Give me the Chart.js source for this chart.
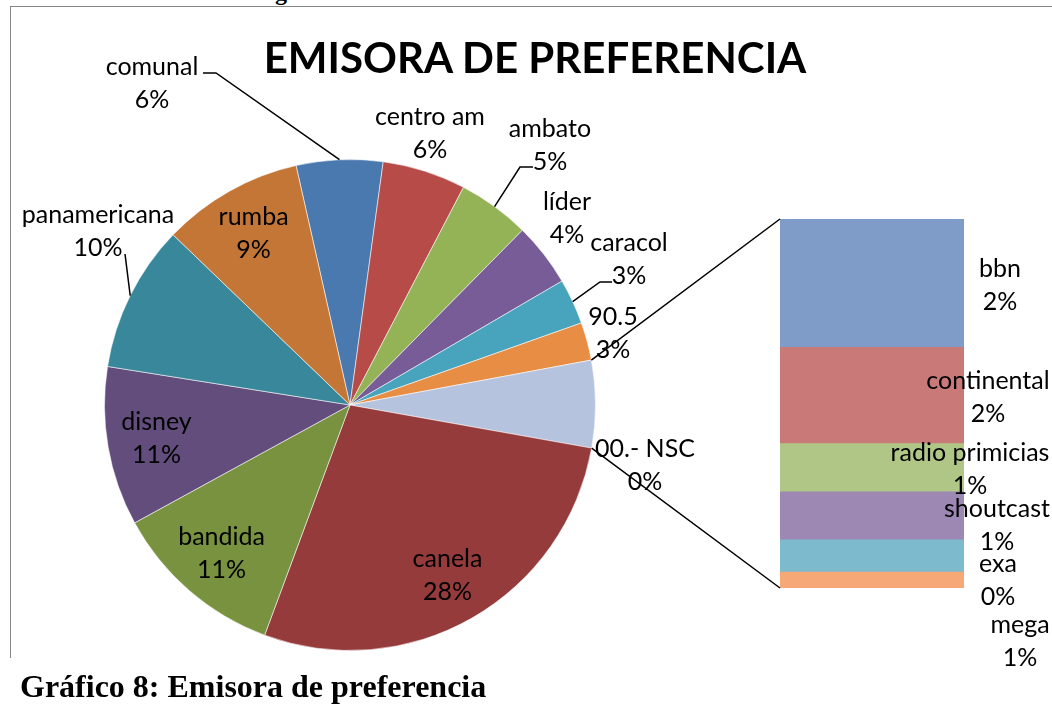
<!DOCTYPE html>
<html>
<head>
<meta charset="utf-8">
<script src="https://cdn.jsdelivr.net/npm/chart.js@4.4.1/dist/chart.umd.min.js"></script>
<style>
  body { margin: 0; width: 1052px; height: 708px; overflow: hidden; background: #fff; position: relative; }
  #frame { position: absolute; left: 10px; top: 6px; width: 1100px; height: 651px; border-left: 1px solid #868686; border-top: 1px solid #868686; }
  canvas { position: absolute; left: 0; top: 0; }
  #source { position: absolute; left: 35px; top: -20px; font: bold 24px "Liberation Serif"; line-height: 1; color: #000; white-space: nowrap; }
  #title { position: absolute; left: 235px; width: 600px; top: 36px; text-align: center; font: bold 42px Lato; line-height: 1; color: #000; white-space: nowrap; }
  #caption { position: absolute; left: 20px; top: 670px; font: bold 32px "Liberation Serif"; line-height: 1; color: #000; white-space: nowrap; }
</style>
</head>
<body>
<div id="source">Elaboración: La investigadora</div>
<div id="frame"></div>
<canvas id="pieChart" width="1052" height="708"></canvas>
<canvas id="barChart" width="1052" height="708"></canvas>
<div id="title">EMISORA DE PREFERENCIA</div>
<div id="caption">Gráfico 8: Emisora de preferencia</div>

<script>
// --- datos ---
const pieLabels = ['comunal', 'centro am', 'ambato', 'líder', 'caracol', '90.5', '00.- NSC', 'canela', 'bandida', 'disney', 'panamericana', 'rumba'];
const pieValues = [5.7, 5.5, 4.75, 4.2, 3.0, 2.5, 5.75, 27.9, 11.4, 10.5, 9.7, 9.3];
const piePercent = ['6%', '6%', '5%', '4%', '3%', '3%', '0%', '28%', '11%', '11%', '10%', '9%'];
const pieColors = ['#4A79B0', '#B64B48', '#94B356', '#775C98', '#48A3BC', '#E78D44', '#B5C3DE', '#953B3B', '#79923F', '#634D7D', '#38879A', '#C37636'];

const barLabels = ['bbn', 'continental', 'radio primicias', 'shoutcast', 'exa', 'mega'];
const barValues = [2.0, 1.5, 0.75, 0.75, 0.5, 0.25];
const barPercent = ['2%', '2%', '1%', '1%', '0%', '1%'];
const barColors = ['#7F9BC8', '#C97A78', '#AFC686', '#9C88B3', '#7DBACD', '#F6A876'];

const OTHER_INDEX = 6;
const LABEL_FONT = '25px Lato';
const LINE = 33;

// --- posiciones de etiquetas (relativas al centro del pastel) ---
const pieLabelPlace = [
  { dx: -198, dy: -322, lead: [51, -10, 13] },   // comunal
  { dx: 80, dy: -272 },                           // centro am
  { dx: 200, dy: -260, lead: [-17, 22, -13] },    // ambato
  { dx: 217, dy: -187 },                          // líder
  { dx: 279, dy: -146, lead: [-17, 23, -12] },    // caracol
  { dx: 263, dy: -72 },                           // 90.5
  { dx: 295, dy: 60 },                            // 00.- NSC
  { inside: true },                               // canela
  { inside: true },                               // bandida
  { inside: true },                               // disney
  { dx: -252, dy: -174, lead: [27, 23, 0] },      // panamericana
  { inside: true }                                // rumba
];
// desplazamiento de etiquetas de la barra: [dx desde borde derecho, dy desde centro del segmento]
const barLabelPlace = [[36, 2], [24, 1.5], [6, 1.5], [33, 10], [34, 25], [56, 61.5]];

const drawTwoLines = (ctx, a, b, x, y) => {
  ctx.fillText(a, x, y - LINE / 2);
  ctx.fillText(b, x, y + LINE / 2);
};

const pieLabelPlugin = {
  id: 'pieLabels',
  afterDatasetsDraw(chart) {
    const ctx = chart.ctx;
    const arcs = chart.getDatasetMeta(0).data;
    ctx.save();
    ctx.font = LABEL_FONT;
    ctx.fillStyle = '#000';
    ctx.strokeStyle = '#000';
    ctx.lineWidth = 1.5;
    ctx.textAlign = 'center';
    ctx.textBaseline = 'middle';
    arcs.forEach((arc, i) => {
      const p = arc.getProps(['x', 'y', 'startAngle', 'endAngle', 'outerRadius'], true);
      const mid = (p.startAngle + p.endAngle) / 2;
      const place = pieLabelPlace[i];
      let bx, by;
      if (place.inside) {
        bx = p.x + Math.cos(mid) * p.outerRadius * 0.8;
        by = p.y + Math.sin(mid) * p.outerRadius * 0.8;
      } else {
        bx = p.x + place.dx;
        by = p.y + place.dy;
      }
      if (place.lead) {
        const sx = bx + place.lead[0];
        const sy = by + place.lead[1];
        ctx.beginPath();
        ctx.moveTo(sx, sy);
        ctx.lineTo(sx + place.lead[2], sy);
        ctx.lineTo(p.x + Math.cos(mid) * p.outerRadius, p.y + Math.sin(mid) * p.outerRadius);
        ctx.stroke();
      }
      drawTwoLines(ctx, pieLabels[i], piePercent[i], bx, by);
    });
    ctx.restore();
  }
};

const pieChart = new Chart(document.getElementById('pieChart'), {
  type: 'pie',
  data: {
    labels: pieLabels,
    datasets: [{
      data: pieValues,
      backgroundColor: pieColors,
      borderColor: 'rgba(255,255,255,0.55)',
      borderWidth: 1
    }]
  },
  options: {
    responsive: false,
    animation: false,
    rotation: -12.7,
    layout: { padding: { left: 104, right: 456, top: 159, bottom: 57 } },
    plugins: { legend: { display: false }, tooltip: { enabled: false } }
  },
  plugins: [pieLabelPlugin]
});

const barPlugin = {
  id: 'barLabels',
  afterDatasetsDraw(chart) {
    const ctx = chart.ctx;
    const n = barLabels.length;
    // dataset 0 = mega (abajo), dataset n-1 = bbn (arriba)
    const segOf = (i) => chart.getDatasetMeta(n - 1 - i).data[0];
    const topSeg = segOf(0);
    const bottomSeg = segOf(n - 1);
    const left = topSeg.x - topSeg.width / 2;
    const right = topSeg.x + topSeg.width / 2;

    const arc = pieChart.getDatasetMeta(0).data[OTHER_INDEX];
    const p = arc.getProps(['x', 'y', 'startAngle', 'endAngle', 'outerRadius'], true);

    ctx.save();
    ctx.strokeStyle = '#000';
    ctx.lineWidth = 1.5;
    ctx.beginPath();
    ctx.moveTo(p.x + Math.cos(p.startAngle) * p.outerRadius, p.y + Math.sin(p.startAngle) * p.outerRadius);
    ctx.lineTo(left, topSeg.y);
    ctx.moveTo(p.x + Math.cos(p.endAngle) * p.outerRadius, p.y + Math.sin(p.endAngle) * p.outerRadius);
    ctx.lineTo(left, bottomSeg.base);
    ctx.stroke();

    ctx.font = LABEL_FONT;
    ctx.fillStyle = '#000';
    ctx.textAlign = 'center';
    ctx.textBaseline = 'middle';
    barLabels.forEach((lab, i) => {
      const seg = segOf(i);
      const cy = (seg.y + seg.base) / 2;
      drawTwoLines(ctx, lab, barPercent[i], right + barLabelPlace[i][0], cy + barLabelPlace[i][1]);
    });
    ctx.restore();
  }
};

const barTotal = barValues.reduce((a, b) => a + b, 0);

new Chart(document.getElementById('barChart'), {
  type: 'bar',
  data: {
    labels: ['otros'],
    datasets: barLabels.map((lab, i) => ({
      label: lab,
      data: [barValues[i]],
      backgroundColor: barColors[i],
      borderWidth: 0,
      categoryPercentage: 1,
      barPercentage: 1
    })).reverse()
  },
  options: {
    responsive: false,
    animation: false,
    layout: { padding: { left: 780, right: 88, top: 219, bottom: 120 } },
    scales: {
      x: { display: false, stacked: true },
      y: { display: false, stacked: true, min: 0, max: barTotal }
    },
    plugins: { legend: { display: false }, tooltip: { enabled: false } }
  },
  plugins: [barPlugin]
});
</script>
</body>
</html>
